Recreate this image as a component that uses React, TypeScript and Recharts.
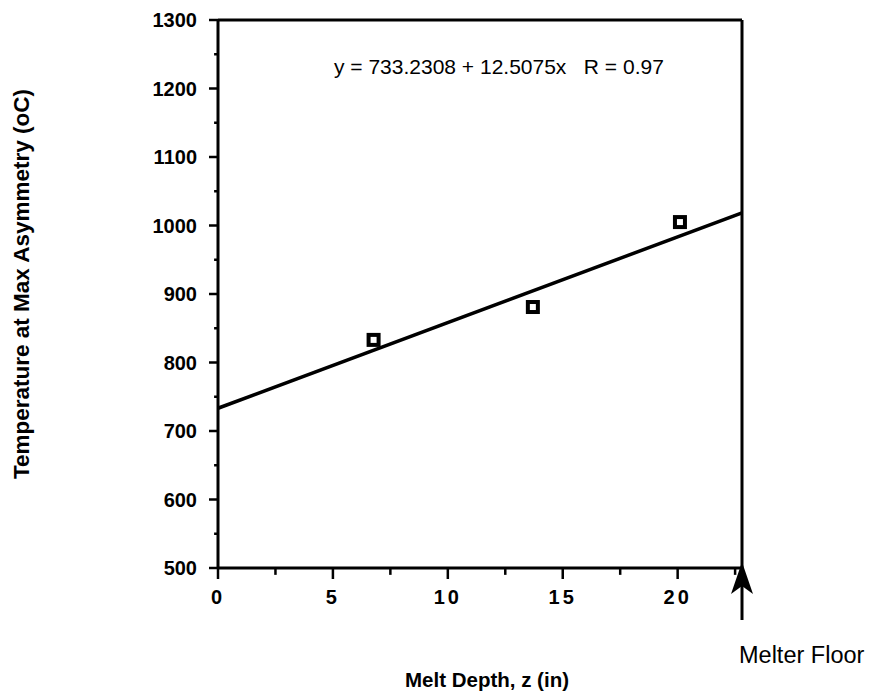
import React from 'react';
import { ComposedChart, Scatter, Line, XAxis, YAxis, ReferenceLine } from 'recharts';

const meltDepth = [6.77, 13.7, 20.1];
const tempAtMaxAsym = [833, 881, 1005];

// fit: y = 733.2308 + 12.5075x, drawn from surface to melter floor
const fitDepth = [0, 22.8];
const fitTemp = [733.23, 1018.4];

const xTicks = [0, 5, 10, 15, 20];
const xMinorTicks = [2.5, 7.5, 12.5, 17.5, 22.5];
const yTicks = [500, 600, 700, 800, 900, 1000, 1100, 1200, 1300];
const yMinorTicks = [550, 650, 750, 850, 950, 1050, 1150, 1250];
const melterFloor = 22.8;

const points = meltDepth.map((x, i) => ({ x, y: tempAtMaxAsym[i] }));
const fitLine = fitDepth.map((x, i) => ({ x, y: fitTemp[i] }));

const FONT = '"Liberation Sans", Arial, Helvetica, sans-serif';

function SquareDot(props: any) {
  const { cx, cy } = props;
  return <rect x={cx - 5} y={cy - 5} width={10} height={10} fill="#fff" stroke="#000" strokeWidth={4} />;
}

function FloorLabel(props: any) {
  const { viewBox } = props;
  const x = viewBox.x;
  const yb = viewBox.y + viewBox.height;
  return (
    <g>
      <line x1={x} x2={x} y1={yb + 12} y2={yb + 52} stroke="#000" strokeWidth={3} />
      <polygon points={`${x},${yb - 6} ${x - 11},${yb + 26} ${x},${yb + 18} ${x + 11},${yb + 26}`} fill="#000" />
      <text x={x - 3} y={yb + 95} fontSize={23.5} fontFamily={FONT} fill="#000">Melter Floor</text>
    </g>
  );
}

export default function App() {
  return (
    <div style={{ position: 'absolute', left: 0, top: 0, width: 869, height: 697, background: '#fff' }}>
      <ComposedChart width={869} height={697} margin={{ top: 20, right: 127, bottom: 99, left: 158 }}>
        <XAxis
          type="number"
          dataKey="x"
          domain={[0, melterFloor]}
          ticks={xTicks}
          interval={0}
          allowDataOverflow
          height={30}
          tickSize={11}
          tickMargin={11}
          tickLine={{ stroke: '#000', strokeWidth: 2.5 }}
          tick={{ fontSize: 20, fontWeight: 'bold', fill: '#000', fontFamily: FONT, letterSpacing: 3 }}
          axisLine={{ stroke: '#000', strokeWidth: 3 }}
        />
        <YAxis
          type="number"
          dataKey="y"
          domain={[500, 1300]}
          ticks={yTicks}
          interval={0}
          width={60}
          tickSize={9}
          tickMargin={12}
          tickLine={{ stroke: '#000', strokeWidth: 2.5 }}
          tick={{ fontSize: 20, fontWeight: 'bold', fill: '#000', fontFamily: FONT }}
          axisLine={{ stroke: '#000', strokeWidth: 3 }}
        />
        {yMinorTicks.map((v) => (
          <ReferenceLine
            key={`ym${v}`}
            segment={[{ x: -0.17, y: v }, { x: 0, y: v }]}
            ifOverflow="visible"
            stroke="#000"
            strokeWidth={2.5}
          />
        ))}
        {xMinorTicks.map((v) => (
          <ReferenceLine
            key={`xm${v}`}
            segment={[{ x: v, y: 500 }, { x: v, y: 490 }]}
            ifOverflow="visible"
            stroke="#000"
            strokeWidth={2.5}
          />
        ))}
        <ReferenceLine y={1300} stroke="#000" strokeWidth={3} />
        <ReferenceLine x={melterFloor} stroke="#000" strokeWidth={3} label={<FloorLabel />} />
        <Line data={fitLine} dataKey="y" type="linear" stroke="#000" strokeWidth={3.5} dot={false} isAnimationActive={false} />
        <Scatter data={points} dataKey="y" shape={<SquareDot />} isAnimationActive={false} />
      </ComposedChart>
      <svg width={869} height={697} style={{ position: 'absolute', left: 0, top: 0, pointerEvents: 'none' }}>
        <text x={334} y={74} fontSize={21} fontFamily={FONT} fill="#000" style={{ whiteSpace: 'pre' }}>
          {'y = 733.2308 + 12.5075x   R = 0.97'}
        </text>
        <text
          transform="translate(29,284) rotate(-90)"
          textAnchor="middle"
          fontSize={22.5}
          fontWeight="bold"
          fontFamily={FONT}
          fill="#000"
        >
          Temperature at Max Asymmetry (oC)
        </text>
        <text x={487} y={687} textAnchor="middle" fontSize={20.5} fontWeight="bold" fontFamily={FONT} fill="#000">
          Melt Depth, z (in)
        </text>
      </svg>
    </div>
  );
}
